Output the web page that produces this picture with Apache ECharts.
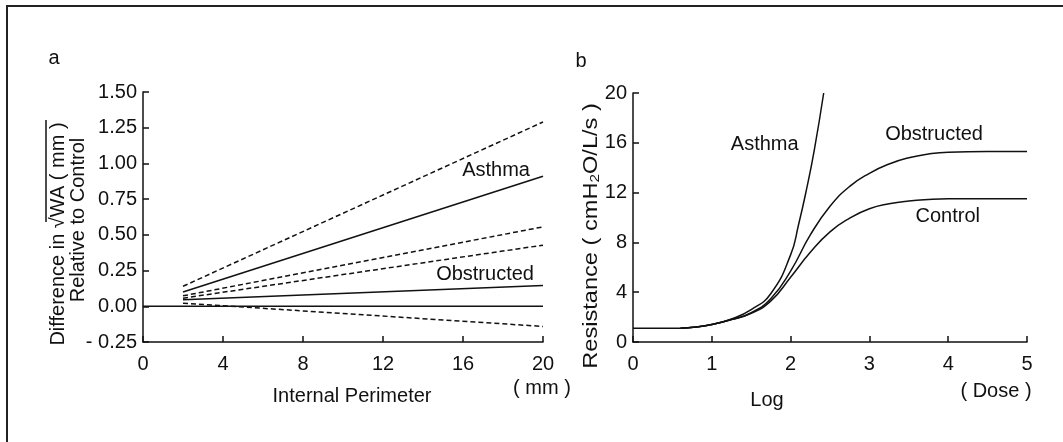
<!DOCTYPE html>
<html><head><meta charset="utf-8">
<script src="https://cdn.jsdelivr.net/npm/echarts@6/dist/echarts.min.js"></script>
<style>html,body{margin:0;padding:0;background:#fff}#c{width:1063px;height:442px}</style>
</head><body><div id="c"></div>
<script>
// ---- Panel a data ----
const perimX = [2, 20];
const zeroX = [0, 20];
const zeroY = [0, 0];
const asthmaUpper = [0.14, 1.29];
const asthmaMean = [0.10, 0.91];
const asthmaLower = [0.073, 0.556];
const obstrUpper = [0.057, 0.428];
const obstrMean = [0.045, 0.146];
const obstrLower = [0.022, -0.141];
// ---- Panel b data ----
const baseX = [0, 0.6];
const baseY = [1.1, 1.1];
const doseX = [0.6, 0.8, 1.0, 1.25, 1.5, 1.75, 2.0, 2.25, 2.5, 2.75, 3.0, 3.25, 3.5, 3.75, 4.0, 4.5, 5.0];
const controlB = [1.1, 1.2, 1.4, 1.8, 2.3, 3.3, 5.2, 7.2, 8.85, 9.95, 10.7, 11.1, 11.33, 11.45, 11.5, 11.5, 11.5];
const obstrB = [1.1, 1.2, 1.4, 1.8, 2.35, 3.5, 5.7, 8.6, 10.9, 12.5, 13.55, 14.3, 14.8, 15.1, 15.25, 15.3, 15.3];
const asthmaX = [0.6, 0.8, 1.0, 1.25, 1.5, 1.75, 2.0, 2.1, 2.2, 2.3, 2.42];
const asthmaB = [1.1, 1.2, 1.4, 1.85, 2.6, 3.9, 7.0, 9.4, 12.2, 15.4, 20];

const FONT = '"Liberation Sans", Arial, Helvetica, sans-serif';
const BLACK = '#111';

function pairs(xs, ys, lastLabel) {
  return xs.map((x, i) => {
    const item = { value: [x, ys[i]] };
    if (lastLabel && i === xs.length - 1) {
      item.label = Object.assign({ show: true, align: 'right', verticalAlign: 'middle', fontSize: 20, color: BLACK, fontFamily: FONT }, lastLabel);
    }
    return item;
  });
}
function lineSeries(xi, xs, ys, dashed, lastLabel, smooth) {
  return {
    type: 'line', xAxisIndex: xi, yAxisIndex: xi,
    data: pairs(xs, ys, lastLabel),
    symbol: 'circle', symbolSize: 0.1, showSymbol: true,
    itemStyle: { color: BLACK },
    smooth: smooth ? 0.5 : false,
    lineStyle: { color: BLACK, width: 1.5, type: dashed ? [5, 3] : 'solid' },
    label: { show: false },
    emphasis: { disabled: true }, silent: true
  };
}
const axisCommon = {
  axisLine: { onZero: false, lineStyle: { color: BLACK, width: 1.5 } },
  axisTick: { inside: true, length: 6, lineStyle: { color: BLACK, width: 1.5 } },
  axisLabel: { color: BLACK, fontSize: 20, fontFamily: FONT },
  splitLine: { show: false },
  nameMoveOverlap: false
};

const chart = echarts.init(document.getElementById('c'), null, { renderer: 'canvas' });
const option = {
  animation: false,
  backgroundColor: '#fff',
  textStyle: { fontFamily: FONT, color: BLACK },
  grid: [
    { left: 143, right: 520, top: 92, bottom: 100, outerBoundsMode: 'none' },
    { left: 633, right: 36, top: 93, bottom: 100, outerBoundsMode: 'none' }
  ],
  xAxis: [
    Object.assign({}, axisCommon, {
      gridIndex: 0, type: 'value', min: 0, max: 20, interval: 4,
      axisLabel: Object.assign({}, axisCommon.axisLabel, { margin: 12 }),
      name: 'Internal Perimeter', nameLocation: 'middle', nameGap: 44,
      nameTextStyle: { fontSize: 20, color: BLACK, fontFamily: FONT, padding: [0, 0, 0, 18] }
    }),
    Object.assign({}, axisCommon, {
      gridIndex: 1, type: 'value', min: 0, max: 5, interval: 1,
      axisLabel: Object.assign({}, axisCommon.axisLabel, { margin: 12 }),
      name: 'Log', nameLocation: 'middle', nameGap: 48,
      nameTextStyle: { fontSize: 20, color: BLACK, fontFamily: FONT, padding: [0, 126, 0, 0] }
    })
  ],
  yAxis: [
    Object.assign({}, axisCommon, {
      gridIndex: 0, type: 'value', min: -0.25, max: 1.5, interval: 0.25,
      axisLabel: Object.assign({}, axisCommon.axisLabel, { margin: 6,
        formatter: v => v < 0 ? '- ' + Math.abs(v).toFixed(2) : v.toFixed(2) }),
      name: '{l1|Difference in √WA ( mm )}\n{l2|Relative to Control}',
      nameLocation: 'middle', nameGap: 55, nameRotate: 90,
      nameTextStyle: {
        fontSize: 20, color: BLACK, fontFamily: FONT, lineHeight: 20,
        rich: {
          l1: { fontSize: 20, lineHeight: 20, color: BLACK, fontFamily: FONT, padding: [0, 34, 0, 0] },
          l2: { fontSize: 20, lineHeight: 20, color: BLACK, fontFamily: FONT, padding: [0, 6, 0, 0] }
        }
      }
    }),
    Object.assign({}, axisCommon, {
      gridIndex: 1, type: 'value', min: 0, max: 20, interval: 4,
      axisLabel: Object.assign({}, axisCommon.axisLabel, { margin: 6 })
    })
  ],
  series: [
    lineSeries(0, zeroX, zeroY, false),
    lineSeries(0, perimX, asthmaUpper, true),
    lineSeries(0, perimX, asthmaMean, false, { formatter: 'Asthma', position: [-13, -6] }),
    lineSeries(0, perimX, asthmaLower, true),
    lineSeries(0, perimX, obstrUpper, true),
    lineSeries(0, perimX, obstrMean, false, { formatter: 'Obstructed', position: [-9, -11] }),
    lineSeries(0, perimX, obstrLower, true),
    lineSeries(1, baseX, baseY, false),
    lineSeries(1, doseX, controlB, false, { formatter: 'Control', position: [-47, 18] }, true),
    lineSeries(1, doseX, obstrB, false, { formatter: 'Obstructed', position: [-44, -17] }, true),
    lineSeries(1, asthmaX, asthmaB, false, { formatter: 'Asthma', position: [-25, 52] }, true)
  ],
  graphic: [
    { type: 'rect', shape: { x: 7, y: 6, width: 1200, height: 600 }, style: { fill: 'none', stroke: '#222', lineWidth: 2 }, silent: true },
    { type: 'text', x: 54, y: 58, style: { text: 'a', fontSize: 20, fontFamily: FONT, fill: BLACK, textAlign: 'center', textVerticalAlign: 'middle' } },
    { type: 'text', x: 581, y: 61, style: { text: 'b', fontSize: 20, fontFamily: FONT, fill: BLACK, textAlign: 'center', textVerticalAlign: 'middle' } },
    { type: 'text', x: 542, y: 388, style: { text: '( mm )', fontSize: 20, fontFamily: FONT, fill: BLACK, textAlign: 'center', textVerticalAlign: 'middle' } },
    { type: 'text', x: 996, y: 391, style: { text: '( Dose )', fontSize: 20, fontFamily: FONT, fill: BLACK, textAlign: 'center', textVerticalAlign: 'middle' } },
    { type: 'line', shape: { x1: 46, y1: 120, x2: 46, y2: 222 }, style: { stroke: BLACK, lineWidth: 1.5 }, silent: true },
    { type: 'text', x: 591, y: 236, rotation: Math.PI / 2, scaleX: 1.18, scaleY: 1,
      style: {
        text: '{n|Resistance ( cmH}{s|2}{n|O/L/s )}',
        fontSize: 20, fontFamily: FONT, fill: BLACK, textAlign: 'center', textVerticalAlign: 'middle',
        rich: {
          n: { fontSize: 20, lineHeight: 22, fill: BLACK, fontFamily: FONT },
          s: { fontSize: 13, lineHeight: 22, fill: BLACK, fontFamily: FONT, verticalAlign: 'bottom', padding: [8, 0, 0, 0] }
        }
      }
    }
  ]
};
chart.setOption(option);
</script>
</body></html>
